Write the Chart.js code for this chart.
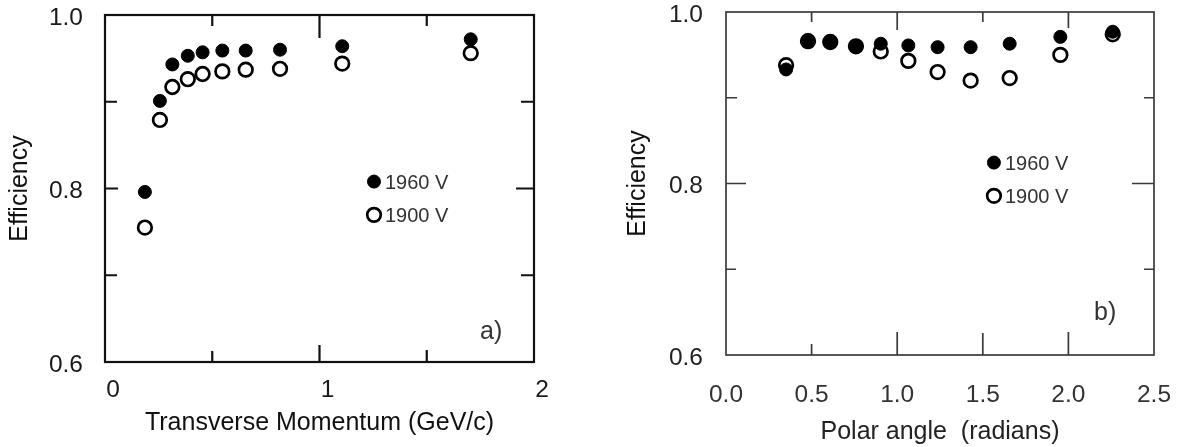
<!DOCTYPE html>
<html>
<head>
<meta charset="utf-8">
<script src="https://cdn.jsdelivr.net/npm/chart.js@4.4.1/dist/chart.umd.min.js"></script>
<style>
  html, body { margin: 0; padding: 0; background: #fff; }
  body { width: 1185px; height: 447px; position: relative; overflow: hidden; }
  .panel { position: absolute; top: 0; }
</style>
</head>
<body>
<div class="panel" style="left:0"><canvas id="chartA" width="590" height="447"></canvas></div>
<div class="panel" style="left:600px"><canvas id="chartB" width="585" height="447"></canvas></div>
<script>
// panel a) efficiency vs transverse momentum
const momentum   = [0.186, 0.256, 0.314, 0.386, 0.455, 0.547, 0.656, 0.816, 1.106, 1.705];
const effMomHigh = [0.796, 0.901, 0.943, 0.953, 0.957, 0.959, 0.959, 0.960, 0.964, 0.972];
const effMomLow  = [0.755, 0.879, 0.917, 0.926, 0.932, 0.935, 0.937, 0.938, 0.944, 0.956];

// panel b) efficiency vs polar angle
const polarAngle = [0.351, 0.479, 0.609, 0.759, 0.904, 1.065, 1.236, 1.429, 1.657, 1.953, 2.259];
const effAngHigh = [0.933, 0.967, 0.965, 0.960, 0.963, 0.961, 0.959, 0.959, 0.963, 0.971, 0.977];
const effAngLow  = [0.938, 0.966, 0.965, 0.960, 0.954, 0.943, 0.930, 0.920, 0.923, 0.950, 0.974];

const seriesNames = ['1960 V', '1900 V'];
const effTickLabels = ['0.6', '0.8', '1.0'];
const momTickLabels = ['0', '1', '2'];
const angTickLabels = ['0.0', '0.5', '1.0', '1.5', '2.0', '2.5'];

const FONT = '"Liberation Sans", Arial, sans-serif';

function pickLabel(list, v) {
  const hit = list.find(t => Math.abs(parseFloat(t) - v) < 1e-6);
  return hit === undefined ? '' : hit;
}

function points(xs, ys) {
  return xs.map((x, i) => ({ x: x, y: ys[i] }));
}

// fixed axis boxes, no extra label padding, so the plot box sits where we want it
function fixY(width) {
  return s => { s.width = width; s.paddingTop = 0; s.paddingBottom = 0; };
}
function fixX(height) {
  return s => { s.height = height; s.paddingLeft = 0; s.paddingRight = 0; };
}

// box around the plot with inward tick marks
const framePlugin = {
  id: 'frame',
  afterDraw(chart, args, opts) {
    const { ctx, chartArea: a, scales: { x, y } } = chart;
    ctx.save();
    ctx.strokeStyle = opts.color;
    ctx.lineWidth = opts.width;
    ctx.beginPath();
    opts.xMarks.forEach(([v, lenTop, lenBottom]) => {
      const px = x.getPixelForValue(v);
      ctx.moveTo(px, a.top); ctx.lineTo(px, a.top + lenTop);
      ctx.moveTo(px, a.bottom); ctx.lineTo(px, a.bottom - lenBottom);
    });
    opts.yMarks.forEach(([v, lenLeft, lenRight]) => {
      const py = y.getPixelForValue(v);
      ctx.moveTo(a.left, py); ctx.lineTo(a.left + lenLeft, py);
      ctx.moveTo(a.right, py); ctx.lineTo(a.right - lenRight, py);
    });
    ctx.stroke();
    ctx.strokeRect(a.left, a.top, a.right - a.left, a.bottom - a.top);
    ctx.restore();
  }
};

// legend drawn inside the plot, plus the panel tag
const insideLegend = {
  id: 'insideLegend',
  afterDraw(chart, args, opts) {
    const { ctx, chartArea: a } = chart;
    const w = a.right - a.left, h = a.bottom - a.top;
    const x0 = a.left + opts.x * w;
    ctx.save();
    chart.data.datasets.forEach((ds, i) => {
      const yy = a.top + opts.y[i] * h;
      ctx.beginPath();
      ctx.arc(x0, yy, ds.pointRadius, 0, Math.PI * 2);
      ctx.fillStyle = ds.pointBackgroundColor;
      ctx.fill();
      ctx.lineWidth = ds.pointBorderWidth;
      ctx.strokeStyle = ds.pointBorderColor;
      ctx.stroke();
      ctx.fillStyle = '#333';
      ctx.font = '20px ' + FONT;
      ctx.textAlign = 'left';
      ctx.textBaseline = 'middle';
      ctx.fillText(ds.label, x0 + 11, yy + 2);
    });
    ctx.fillStyle = '#333';
    ctx.font = '25px ' + FONT;
    ctx.textAlign = 'center';
    ctx.textBaseline = 'middle';
    ctx.fillText(opts.tag, a.left + opts.tagX * w, a.top + opts.tagY * h);
    ctx.restore();
  }
};

function datasets(xs, high, low) {
  return [{
    label: seriesNames[0],
    data: points(xs, high),
    pointRadius: 6.5,
    pointBorderWidth: 1,
    pointBackgroundColor: '#000',
    pointBorderColor: '#000'
  }, {
    label: seriesNames[1],
    data: points(xs, low),
    pointRadius: 6.8,
    pointBorderWidth: 2.7,
    pointBackgroundColor: '#fff',
    pointBorderColor: '#000'
  }];
}

// panel a)
new Chart(document.getElementById('chartA'), {
  type: 'scatter',
  data: { datasets: datasets(momentum, effMomHigh, effMomLow) },
  plugins: [framePlugin, insideLegend],
  options: {
    responsive: false,
    animation: false,
    devicePixelRatio: 1,
    layout: { padding: { left: 0, top: 15, right: 56, bottom: 0 } },
    plugins: {
      legend: { display: false },
      tooltip: { enabled: false },
      frame: {
        color: '#111', width: 2.2,
        xMarks: [[0.5, 11, 11], [1, 23, 17], [1.5, 11, 12]],
        yMarks: [[0.7, 12, 13], [0.8, 13, 18], [0.9, 12, 13]]
      },
      insideLegend: { x: 0.627, y: [0.480, 0.576], tag: 'a)', tagX: 0.9, tagY: 0.913 }
    },
    scales: {
      x: {
        type: 'linear', min: 0, max: 2,
        afterFit: fixX(85),
        grid: { display: false, drawTicks: false },
        border: { display: false },
        ticks: {
          stepSize: 0.5, autoSkip: false, maxRotation: 0, padding: 16, labelOffset: 8,
          color: '#1a1a1a', font: { family: FONT, size: 24.5, lineHeight: 1 },
          callback: v => pickLabel(momTickLabels, v)
        },
        title: {
          display: true, text: 'Transverse Momentum (GeV/c)', color: '#111',
          font: { family: FONT, size: 25 }, padding: { top: 0, bottom: 9 }
        }
      },
      y: {
        type: 'linear', min: 0.6, max: 1.0,
        afterFit: fixY(105),
        grid: { display: false, drawTicks: false },
        border: { display: false },
        ticks: {
          stepSize: 0.1, autoSkip: false, padding: 22, labelOffset: 3,
          color: '#1a1a1a', font: { family: FONT, size: 24.5, lineHeight: 1 },
          callback: v => pickLabel(effTickLabels, v)
        },
        title: {
          display: true, text: 'Efficiency', color: '#111',
          font: { family: FONT, size: 25 }, padding: { top: 5, bottom: 0 }
        }
      }
    }
  }
});

// panel b)
new Chart(document.getElementById('chartB'), {
  type: 'scatter',
  data: { datasets: datasets(polarAngle, effAngHigh, effAngLow) },
  plugins: [framePlugin, insideLegend],
  options: {
    responsive: false,
    animation: false,
    devicePixelRatio: 1,
    layout: { padding: { left: 0, top: 12, right: 31, bottom: 0 } },
    plugins: {
      legend: { display: false },
      tooltip: { enabled: false },
      frame: {
        color: '#3a3a3a', width: 1.7,
        xMarks: [[0.5, 10, 11], [1.0, 18, 23], [1.5, 10, 22], [2.0, 16, 23]],
        yMarks: [[0.7, 10, 10], [0.8, 20, 22], [0.9, 11, 10]]
      },
      insideLegend: { x: 0.626, y: [0.439, 0.536], tag: 'b)', tagX: 0.886, tagY: 0.877 }
    },
    scales: {
      x: {
        type: 'linear', min: 0, max: 2.5,
        afterFit: fixX(92),
        grid: { display: false, drawTicks: false },
        border: { display: false },
        ticks: {
          stepSize: 0.5, autoSkip: false, maxRotation: 0, padding: 28,
          color: '#333', font: { family: FONT, size: 24.5, lineHeight: 1 },
          callback: v => pickLabel(angTickLabels, v)
        },
        title: {
          display: true, text: 'Polar angle  (radians)', color: '#222',
          font: { family: FONT, size: 25 }, padding: { top: 0, bottom: 0 }
        }
      },
      y: {
        type: 'linear', min: 0.6, max: 1.0,
        afterFit: fixY(126),
        grid: { display: false, drawTicks: false },
        border: { display: false },
        ticks: {
          stepSize: 0.1, autoSkip: false, padding: 23, labelOffset: 3,
          color: '#222', font: { family: FONT, size: 24.5, lineHeight: 1 },
          callback: v => pickLabel(effTickLabels, v)
        },
        title: {
          display: true, text: 'Efficiency', color: '#111',
          font: { family: FONT, size: 25 }, padding: { top: 23, bottom: 0 }
        }
      }
    }
  }
});
</script>
</body>
</html>
